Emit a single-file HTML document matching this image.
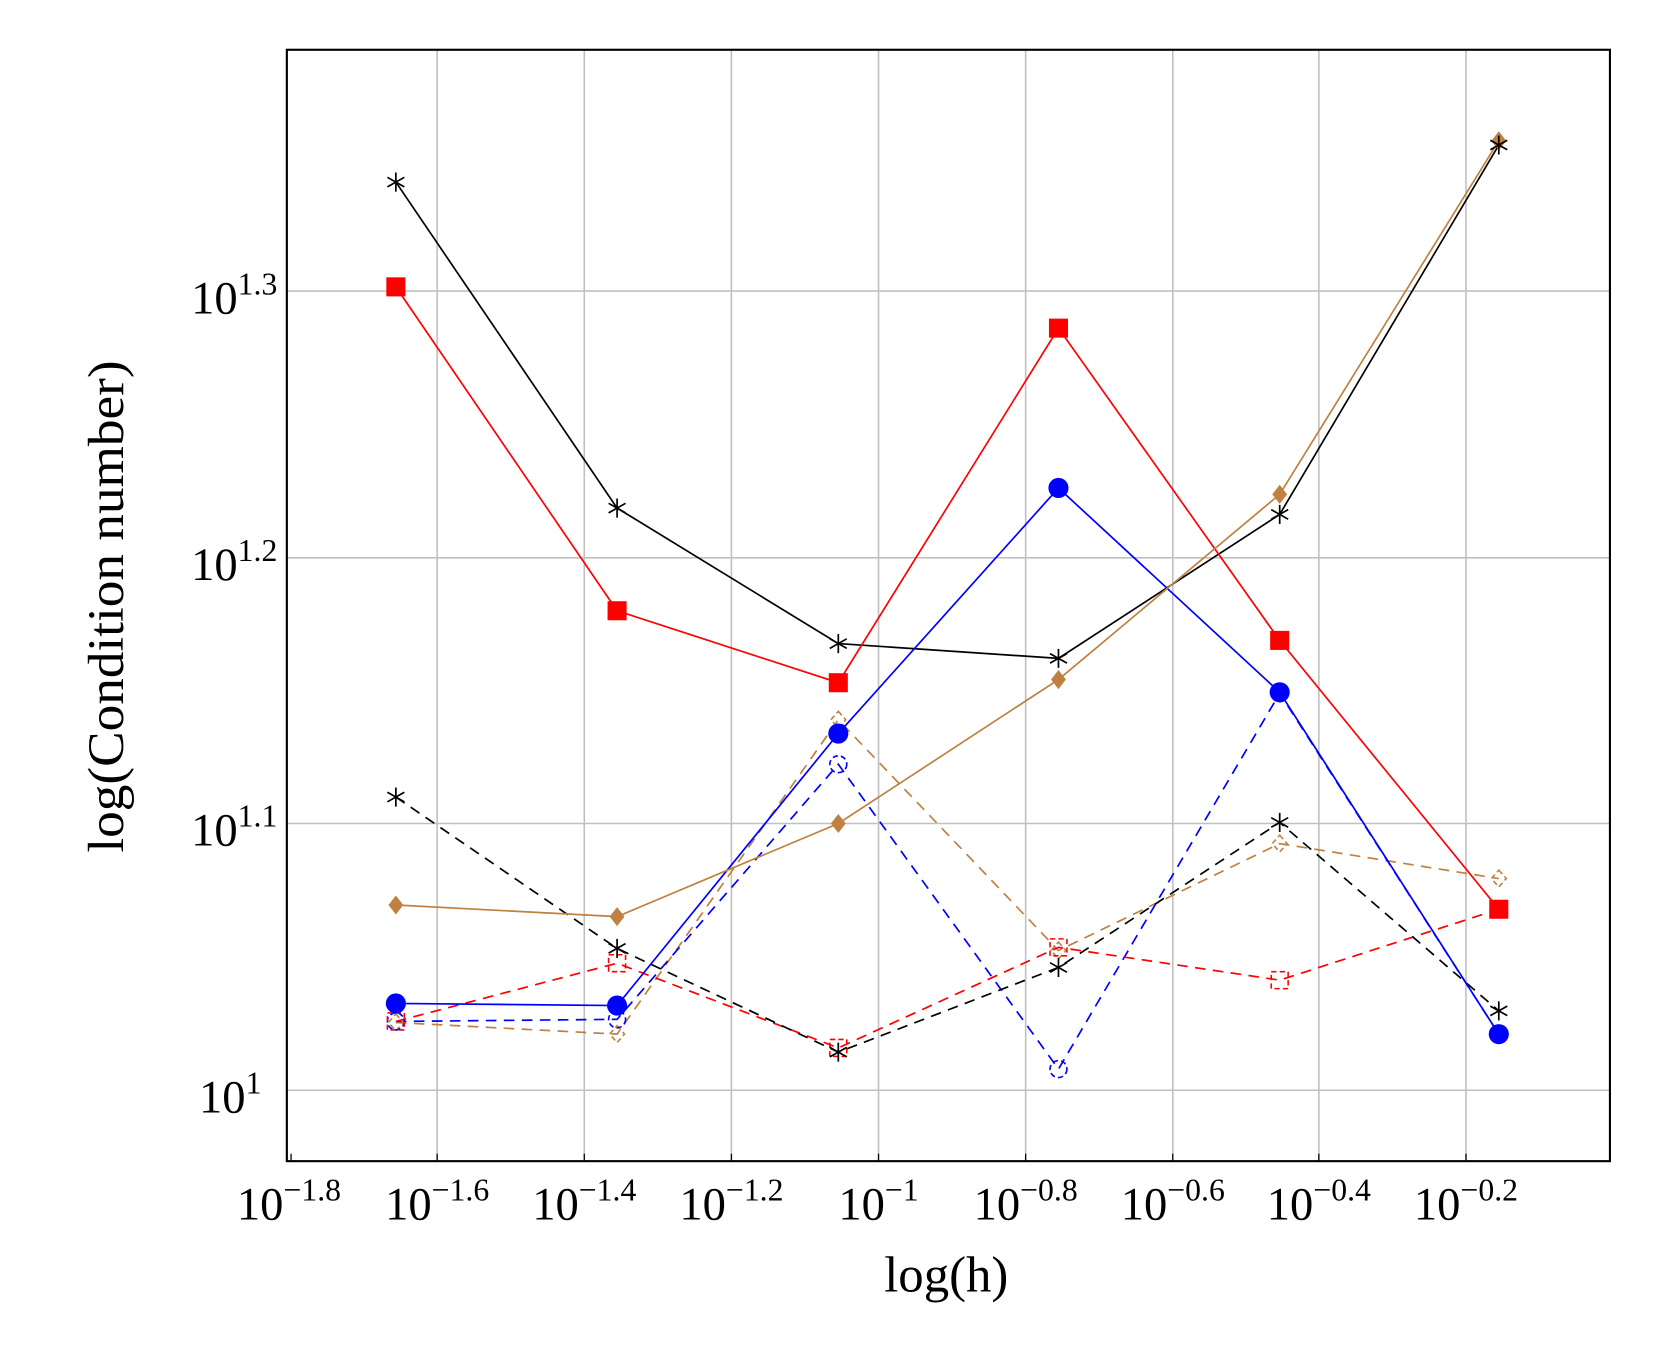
<!DOCTYPE html>
<html><head><meta charset="utf-8"><style>html,body{margin:0;padding:0;background:#fff}svg{display:block}</style></head>
<body>
<svg width="1660" height="1368" viewBox="0 0 1568.3 1292.4" xmlns="http://www.w3.org/2000/svg" font-family="'Liberation Serif', serif">
<defs>
<symbol id="st" overflow="visible"><path d="M0,-9V9M-8,-4.5L8,4.5M-8,4.5L8,-4.5" stroke="#000" stroke-width="1.6" fill="none"/></symbol>
</defs>
<g stroke="#c0c0c0" stroke-width="1.5">
<path d="M413,47V1097M552,47V1097M691,47V1097M830,47V1097M969,47V1097M1108,47V1097M1246,47V1097M1385,47V1097"/>
<path d="M271,275H1521M271,527H1521M271,778H1521M271,1030H1521"/>
</g>
<g stroke="#000" stroke-width="1.2">
<path d="M275,1097v-7M413,1097v-7M552,1097v-7M691,1097v-7M830,1097v-7M969,1097v-7M1108,1097v-7M1246,1097v-7M1385,1097v-7"/>
</g>
<g fill="none" stroke-width="1.6" stroke-dasharray="10,7">
<polyline stroke="#bf8040" points="374,966 583,977 792,680 1000,898 1209,797 1416,830"/>
<polyline stroke="#0000ff" points="374,965 583,963 792,722 1000,1010 1209,655 1416,977"/>
<polyline stroke="#ff0000" points="374,965 583,910 792,990 1000,895 1209,926 1416,859"/>
<polyline stroke="#000" points="374,753 583,896 792,994 1000,914 1209,777 1416,955"/>
</g>
<g fill="none" stroke-width="1.5" stroke-dasharray="5,3">
<g stroke="#bf8040"><path d="M374,958l7,8-7,8-7-8zM583,969l7,8-7,8-7-8zM792,672l7,8-7,8-7-8zM1000,890l7,8-7,8-7-8zM1209,789l7,8-7,8-7-8zM1416,822l7,8-7,8-7-8z"/></g>
<g stroke="#0000ff"><circle cx="374" cy="965" r="8"/><circle cx="583" cy="963" r="8"/><circle cx="792" cy="722" r="8"/><circle cx="1000" cy="1010" r="8"/><circle cx="1209" cy="655" r="8"/></g>
<g stroke="#ff0000"><rect x="366" y="957" width="16" height="16"/><rect x="575" y="902" width="16" height="16"/><rect x="784" y="982" width="16" height="16"/><rect x="992" y="887" width="16" height="16"/><rect x="1201" y="918" width="16" height="16"/></g>
</g>
<use href="#st" x="374" y="753"/><use href="#st" x="583" y="896"/><use href="#st" x="792" y="994"/><use href="#st" x="1000" y="914"/><use href="#st" x="1209" y="777"/><use href="#st" x="1416" y="955"/>
<g fill="none" stroke-width="1.6">
<polyline stroke="#000" points="374,172 583,480 792,608 1000,622 1209,486 1416,137"/>
<polyline stroke="#ff0000" points="374,271 583,577 792,645 1000,310 1209,605 1416,859"/>
<polyline stroke="#0000ff" points="374,948 583,950 792,693 1000,461 1209,654 1416,977"/>
<polyline stroke="#bf8040" points="374,855 583,866 792,778 1000,642 1209,467 1416,133"/>
</g>
<g fill="#bf8040"><path d="M374,846l7,9-7,9-7-9zM583,857l7,9-7,9-7-9zM792,769l7,9-7,9-7-9zM1000,633l7,9-7,9-7-9zM1209,458l7,9-7,9-7-9zM1416,124l7,9-7,9-7-9z"/></g>
<g fill="#0000ff"><circle cx="374" cy="948" r="9.5"/><circle cx="583" cy="950" r="9.5"/><circle cx="792" cy="693" r="9.5"/><circle cx="1000" cy="461" r="9.5"/><circle cx="1209" cy="654" r="9.5"/><circle cx="1416" cy="977" r="9.5"/></g>
<g fill="#ff0000"><rect x="365" y="262" width="18" height="18"/><rect x="574" y="568" width="18" height="18"/><rect x="783" y="636" width="18" height="18"/><rect x="991" y="301" width="18" height="18"/><rect x="1200" y="596" width="18" height="18"/><rect x="1407" y="850" width="18" height="18"/></g>
<use href="#st" x="374" y="172"/><use href="#st" x="583" y="480"/><use href="#st" x="792" y="608"/><use href="#st" x="1000" y="622"/><use href="#st" x="1209" y="486"/><use href="#st" x="1416" y="137"/>
<rect x="271" y="47" width="1250" height="1050" fill="none" stroke="#000" stroke-width="2"/>
<g font-size="44" text-anchor="end">
<text x="262" y="296">10<tspan font-size="30" dy="-18">1.3</tspan></text>
<text x="262" y="548">10<tspan font-size="30" dy="-18">1.2</tspan></text>
<text x="262" y="799">10<tspan font-size="30" dy="-18">1.1</tspan></text>
<text x="247" y="1051">10<tspan font-size="30" dy="-18">1</tspan></text>
</g>
<g font-size="44" text-anchor="middle">
<text x="273" y="1152">10<tspan font-size="30" dy="-18">−1.8</tspan></text>
<text x="413" y="1152">10<tspan font-size="30" dy="-18">−1.6</tspan></text>
<text x="552" y="1152">10<tspan font-size="30" dy="-18">−1.4</tspan></text>
<text x="691" y="1152">10<tspan font-size="30" dy="-18">−1.2</tspan></text>
<text x="830" y="1152">10<tspan font-size="30" dy="-18">−1</tspan></text>
<text x="969" y="1152">10<tspan font-size="30" dy="-18">−0.8</tspan></text>
<text x="1108" y="1152">10<tspan font-size="30" dy="-18">−0.6</tspan></text>
<text x="1246" y="1152">10<tspan font-size="30" dy="-18">−0.4</tspan></text>
<text x="1385" y="1152">10<tspan font-size="30" dy="-18">−0.2</tspan></text>
<text x="894" y="1220" font-size="48">log(h)</text>
<text transform="translate(116,573) rotate(-90)" font-size="48" textLength="465" lengthAdjust="spacingAndGlyphs">log(Condition number)</text>
</g>
</svg>
</body></html>
